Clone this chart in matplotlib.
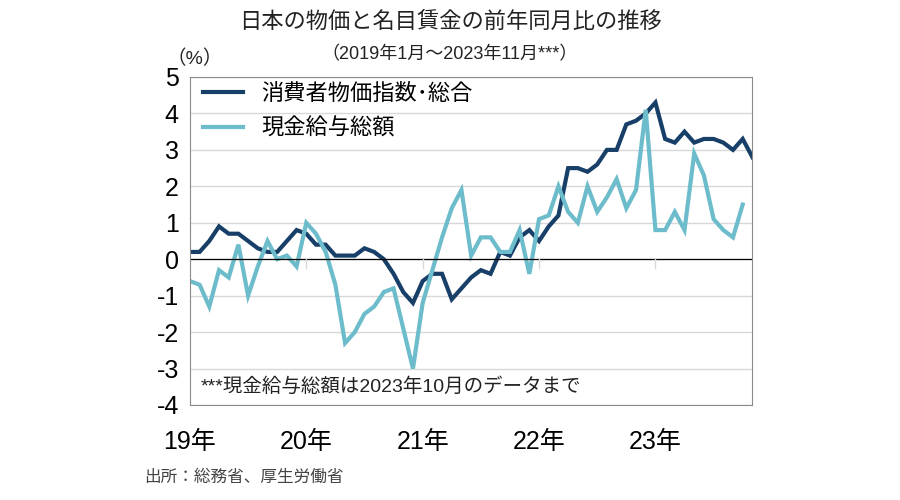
import matplotlib.pyplot as plt
import numpy as np

plt.rcParams['font.family'] = ['Liberation Sans', 'Noto Sans CJK JP']

# Data (monthly, 2019-01 onward)
cpi = [0.2, 0.2, 0.5, 0.9, 0.7, 0.7, 0.5, 0.3, 0.2, 0.2, 0.5, 0.8,
       0.7, 0.4, 0.4, 0.1, 0.1, 0.1, 0.3, 0.2, 0.0, -0.4, -0.9, -1.2,
       -0.6, -0.4, -0.4, -1.1, -0.8, -0.5, -0.3, -0.4, 0.2, 0.1, 0.6, 0.8,
       0.5, 0.9, 1.2, 2.5, 2.5, 2.4, 2.6, 3.0, 3.0, 3.7, 3.8, 4.0,
       4.3, 3.3, 3.2, 3.5, 3.2, 3.3, 3.3, 3.2, 3.0, 3.3, 2.8]
wages = [-0.6, -0.7, -1.3, -0.3, -0.5, 0.4, -1.0, -0.2, 0.5, 0.0, 0.1, -0.2,
         1.0, 0.7, 0.2, -0.7, -2.3, -2.0, -1.5, -1.3, -0.9, -0.8, -1.9, -3.0,
         -1.2, -0.3, 0.6, 1.4, 1.9, 0.1, 0.6, 0.6, 0.2, 0.2, 0.8, -0.4,
         1.1, 1.2, 2.0, 1.3, 1.0, 2.0, 1.3, 1.7, 2.2, 1.4, 1.9, 4.1,
         0.8, 0.8, 1.3, 0.8, 2.9, 2.3, 1.1, 0.8, 0.6, 1.5]
year_labels = ['19年', '20年', '21年', '22年', '23年']
yticks = [5, 4, 3, 2, 1, 0, -1, -2, -3, -4]

dark = '#173f68'
light = '#6cbccb'

fig = plt.figure(figsize=(9, 5), dpi=100)
ax = fig.add_axes([0.211, 0.19, 0.625, 0.656])

ax.plot(range(len(cpi)), cpi, color=dark, lw=3, label='消費者物価指数･総合', solid_joinstyle='miter')
ax.plot(range(len(wages)), wages, color=light, lw=3, label='現金給与総額', solid_joinstyle='miter')
ax.axhline(0, color='black', lw=0.9)

ax.set_xlim(0, len(cpi) - 1)
ax.set_ylim(-4, 5)
ax.set_yticks(yticks)
ax.set_yticklabels([str(v) for v in yticks], fontsize=18)
ax.set_xticks([12 * i for i in range(len(year_labels))])
ax.set_xticklabels(year_labels, fontsize=18)
ax.tick_params(axis='y', length=0, pad=8)
ax.tick_params(axis='x', length=0, pad=18)
ax.grid(axis='y', color='#d8d8d8', lw=1)
for i in range(1, len(year_labels)):
    ax.plot([12 * i, 12 * i], [0, -0.25], color='#d8d8d8', lw=1)
for s in ax.spines.values():
    s.set_color('#8a8a8a')

ax.legend(loc='upper left', frameon=False, fontsize=16, handlelength=1.8,
          borderaxespad=0.2, labelspacing=0.6, bbox_to_anchor=(0.0, 1.02))
ax.text(0.02, 0.055, '***現金給与総額は2023年10月のデータまで', transform=ax.transAxes,
        fontsize=14, color='#222222', va='center')

fig.text(0.5, 0.955, '日本の物価と名目賃金の前年同月比の推移', ha='center', va='center', fontsize=16, color='#222222')
fig.text(0.5, 0.89, '（2019年1月～2023年11月***）', ha='center', va='center', fontsize=13, color='#222222')
fig.text(0.185, 0.882, '（%）', ha='left', va='center', fontsize=14, color='#222222')
fig.text(0.16, 0.045, '出所：総務省、厚生労働省', ha='left', va='center', fontsize=12, color='#444444')

fig.savefig('out.png', dpi=100, facecolor='white')
